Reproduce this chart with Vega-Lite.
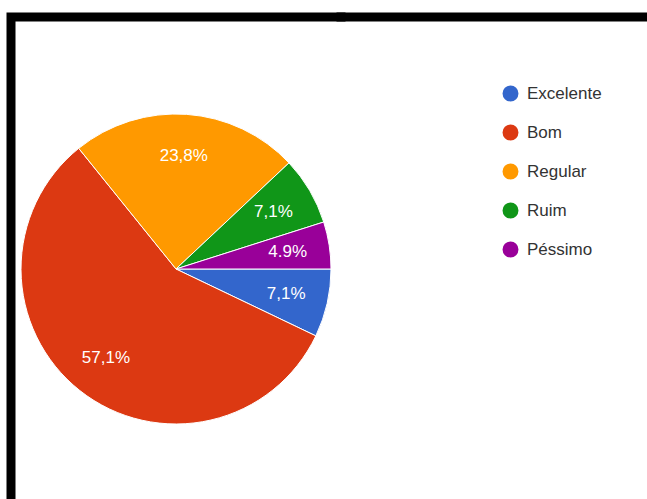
{
  "$schema": "https://vega.github.io/schema/vega-lite/v6.json",
  "padding": {"left": 4, "top": 10, "right": 0, "bottom": 0},
  "spacing": 0,
  "bounds": "flush",
  "background": "#ffffff",
  "config": {"view": {"stroke": null}, "concat": {"spacing": 0}},
  "datasets": {
    "d": [
      {"cat": "Excelente", "value": 7.1, "label": "7,1%", "ord": 1},
      {"cat": "Bom", "value": 57.1, "label": "57,1%", "ord": 2},
      {"cat": "Regular", "value": 23.8, "label": "23,8%", "ord": 3},
      {"cat": "Ruim", "value": 7.1, "label": "7,1%", "ord": 4},
      {"cat": "Péssimo", "value": 4.9, "label": "4.9%", "ord": 5}
    ]
  },
  "hconcat": [
    {
      "width": 330,
      "height": 504,
      "view": {"stroke": "#000000", "strokeWidth": 9, "strokeDash": [330, 834, 504], "strokeCap": "square"},
      "data": {"name": "d"},
      "encoding": {
        "theta": {"field": "value", "type": "quantitative", "stack": true, "scale": {"range": [1.5707963, 7.8539816]}},
        "order": {"field": "ord", "type": "quantitative"},
        "color": {
          "field": "cat",
          "type": "nominal",
          "scale": {
            "domain": ["Excelente", "Bom", "Regular", "Ruim", "Péssimo"],
            "range": ["#3366CC", "#DC3912", "#FF9900", "#109618", "#990099"]
          },
          "legend": {
            "orient": "none",
            "legendX": 491,
            "legendY": 68,
            "title": null,
            "symbolType": "circle",
            "symbolSize": 254,
            "symbolStrokeWidth": 0,
            "symbolOpacity": 1,
            "labelFontSize": 17,
            "labelFont": "Liberation Sans",
            "labelColor": "#333333",
            "rowPadding": 21,
            "labelOffset": 8,
            "padding": 0
          }
        }
      },
      "layer": [
        {"mark": {"type": "arc", "outerRadius": 155, "stroke": "#ffffff", "strokeWidth": 1}},
        {
          "mark": {"type": "text", "radius": 113, "fontSize": 17, "font": "Liberation Sans"},
          "encoding": {"text": {"field": "label", "type": "nominal"}, "color": {"value": "#ffffff"}}
        }
      ]
    },
    {
      "width": 305,
      "height": 504,
      "view": {"stroke": "#000000", "strokeWidth": 9, "strokeDash": [305, 1313], "strokeCap": "square"},
      "data": {"values": [{}]},
      "mark": {"type": "point", "opacity": 0},
      "encoding": {}
    }
  ]
}
